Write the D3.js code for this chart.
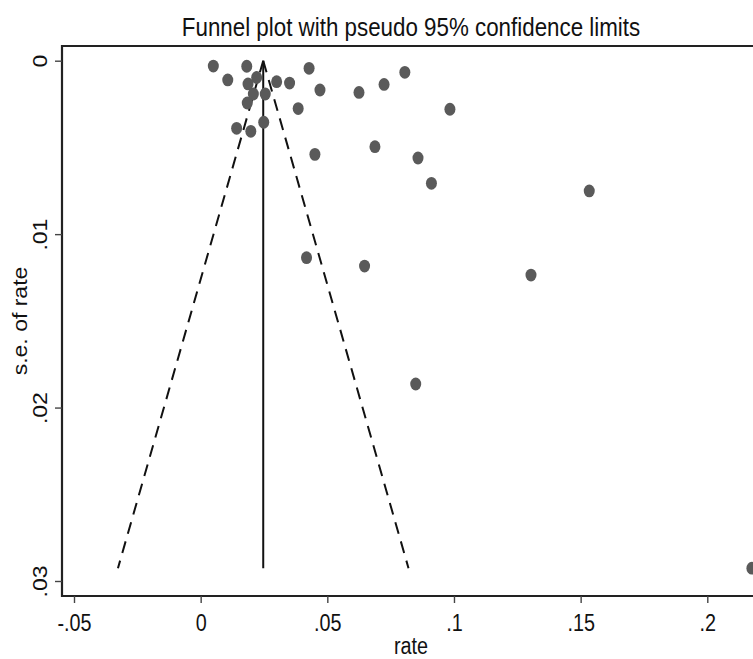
<!DOCTYPE html>
<html lang="en">

<head>
  <meta charset="UTF-8">
  <title>Funnel plot</title>
  <script src="https://d3js.org/d3.v7.min.js"></script>
  <style>
    * {
      padding: 0;
      margin: 0;
      box-sizing: border-box;
    }

    body {
      background: #fff;
      overflow: hidden;
    }
  </style>
</head>

<body>
  <div id="container"></div>
  <script>
    // study estimates
    const rates = [
      0.0050, 0.0182, 0.0107, 0.0187, 0.0221, 0.0208, 0.0255, 0.0184, 0.0300, 0.0351,
      0.0428, 0.0471, 0.0385, 0.0142, 0.0198, 0.0249, 0.0451, 0.0625, 0.0724, 0.0806,
      0.0984, 0.0688, 0.0858, 0.0911, 0.1534, 0.0418, 0.0647, 0.1304, 0.0849, 0.2176
    ]
    const ses = [
      0.00031, 0.00032, 0.00111, 0.00134, 0.00097, 0.00192, 0.00192, 0.00244, 0.00121, 0.00129,
      0.00044, 0.00169, 0.00276, 0.00390, 0.00407, 0.00355, 0.00540, 0.00183, 0.00137, 0.00067,
      0.00280, 0.00496, 0.00561, 0.00707, 0.00751, 0.01136, 0.01184, 0.01236, 0.01864, 0.02926
    ]
    const pooled = 0.0247
    const xTicks = [-0.05, 0, 0.05, 0.1, 0.15, 0.2]
    const xTickLabels = ["-.05", "0", ".05", ".1", ".15", ".2"]
    const yTicks = [0, 0.01, 0.02, 0.03]
    const yTickLabels = ["0", ".01", ".02", ".03"]

    const width = 753
    const height = 659
    const frame = { left: 62, right: 761, top: 46, bottom: 596 }
    const font = "'Liberation Sans', Arial, sans-serif"
    const squeeze = "scale(0.86,1)" // the picture looks horizontally squashed

    const x = d3.scaleLinear().domain([-0.05, 0.2]).range([74, 707.3])
    const y = d3.scaleLinear().domain([0, 0.03]).range([60.7, 581])

    const svg = d3.select("#container")
      .append("svg")
      .attr("width", width)
      .attr("height", height)
      .attr("font-family", font)
      .style("display", "block")

    svg.append("rect").attr("width", width).attr("height", height).attr("fill", "#fff")

    // pseudo 95% limits
    const seMax = d3.max(ses)
    const lines = [
      { a: [pooled, 0], b: [pooled - 1.96 * seMax, seMax], dash: "12,8" },
      { a: [pooled, 0], b: [pooled + 1.96 * seMax, seMax], dash: "12,8" },
      { a: [pooled, 0], b: [pooled, seMax], dash: null }
    ]
    svg.append("g")
      .selectAll("line")
      .data(lines)
      .join("line")
      .attr("x1", d => x(d.a[0]))
      .attr("y1", d => y(d.a[1]))
      .attr("x2", d => x(d.b[0]))
      .attr("y2", d => y(d.b[1]))
      .attr("stroke", "#111")
      .attr("stroke-width", 2)
      .attr("stroke-dasharray", d => d.dash)

    svg.append("g")
      .selectAll("ellipse")
      .data(d3.range(rates.length))
      .join("ellipse")
      .attr("cx", i => x(rates[i]))
      .attr("cy", i => y(ses[i]))
      .attr("rx", 5.5)
      .attr("ry", 6.4)
      .attr("fill", "#5a5a5a")

    // frame
    svg.append("path")
      .attr("d", `M${frame.right},${frame.top}H${frame.left}V${frame.bottom}H${frame.right}`)
      .attr("fill", "none")
      .attr("stroke", "#222")
      .attr("stroke-width", 2.2)

    const xAxis = d3.axisBottom(x)
      .tickValues(xTicks)
      .tickFormat((d, i) => xTickLabels[i])
      .tickSize(7)
      .tickPadding(12)
    svg.append("g")
      .attr("transform", `translate(0,${frame.bottom})`)
      .call(xAxis)
      .call(g => g.select(".domain").remove())
      .call(g => g.selectAll(".tick line").attr("stroke", "#444").attr("stroke-width", 1.4))
      .call(g => g.selectAll(".tick text")
        .attr("fill", "#111")
        .attr("font-family", font)
        .attr("font-size", 23)
        .attr("transform", squeeze))

    const yAxis = d3.axisLeft(y)
      .tickValues(yTicks)
      .tickFormat((d, i) => yTickLabels[i])
      .tickSize(7)
    svg.append("g")
      .attr("transform", `translate(${frame.left},0)`)
      .call(yAxis)
      .call(g => g.select(".domain").remove())
      .call(g => g.selectAll(".tick line").attr("stroke", "#444").attr("stroke-width", 1.4))
      .call(g => g.selectAll(".tick text")
        .attr("fill", "#111")
        .attr("font-family", font)
        .attr("font-size", 23)
        .attr("x", null)
        .attr("dy", null)
        .attr("text-anchor", "middle")
        .attr("transform", "translate(-15,0) rotate(-90) scale(1,0.86)"))

    svg.append("text")
      .attr("transform", `translate(411,36) ${squeeze}`)
      .attr("text-anchor", "middle")
      .attr("font-size", 26)
      .attr("fill", "#111")
      .text("Funnel plot with pseudo 95% confidence limits")

    svg.append("text")
      .attr("transform", `translate(411,654) ${squeeze}`)
      .attr("text-anchor", "middle")
      .attr("font-size", 23)
      .attr("fill", "#111")
      .text("rate")

    svg.append("text")
      .attr("transform", `translate(27,${(frame.top + frame.bottom) / 2}) rotate(-90) scale(1,0.86)`)
      .attr("text-anchor", "middle")
      .attr("font-size", 23)
      .attr("fill", "#111")
      .text("s.e. of rate")
  </script>
</body>

</html>
